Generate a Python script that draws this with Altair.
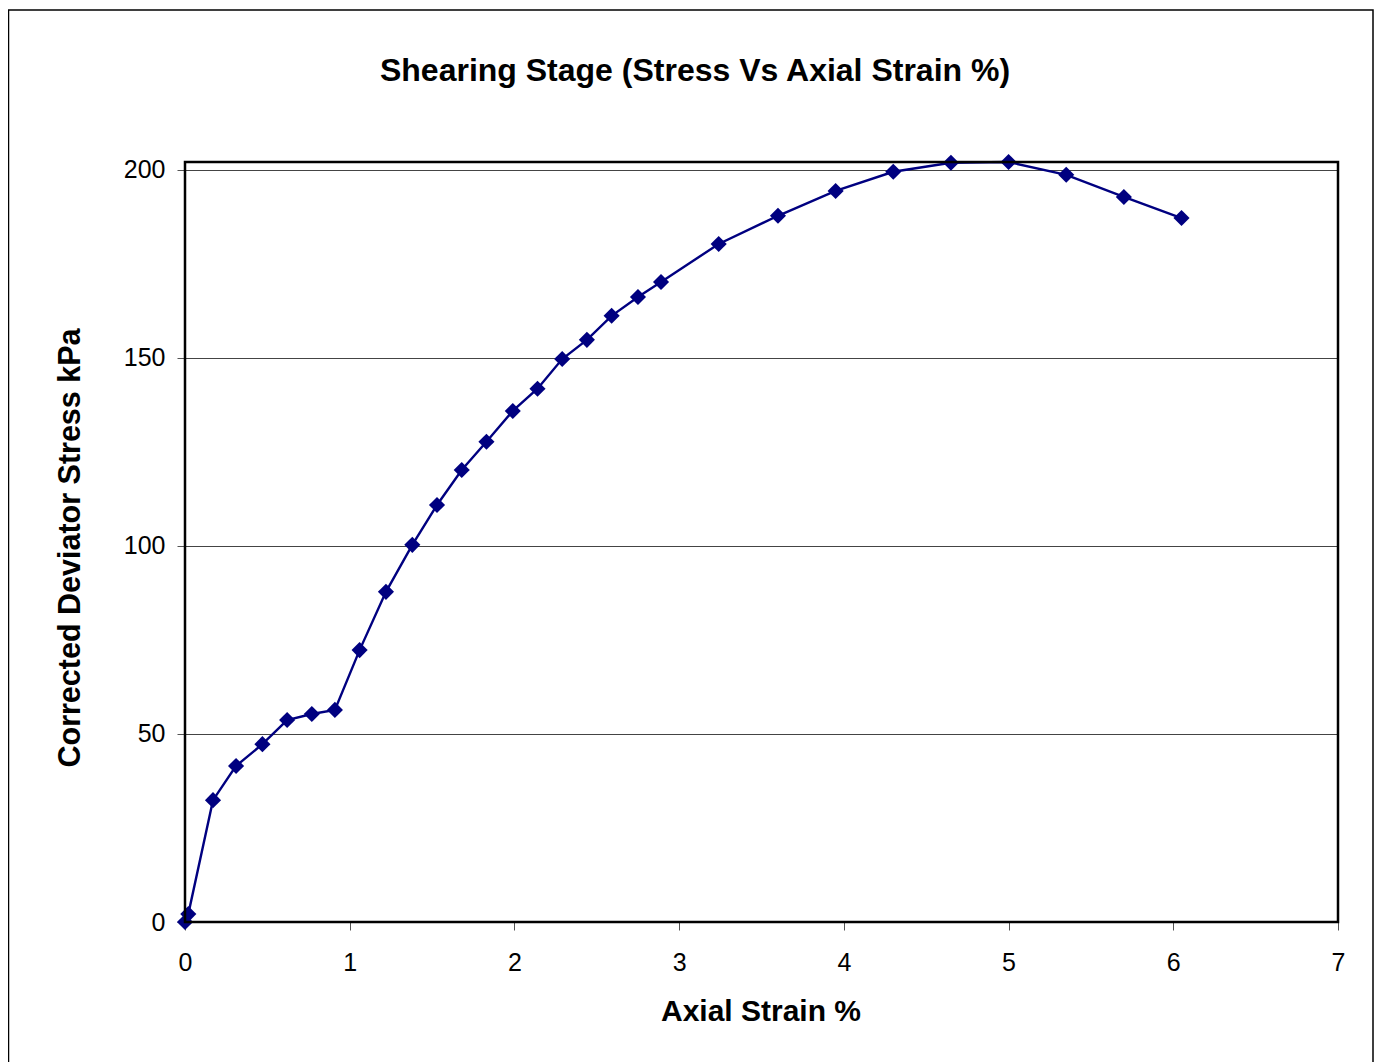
import altair as alt
import pandas as pd

strain = [0.0, 0.02, 0.17, 0.31, 0.47, 0.62, 0.77, 0.91, 1.06, 1.22, 1.38, 1.53,
          1.68, 1.83, 1.99, 2.14, 2.29, 2.44, 2.59, 2.75, 2.89, 3.24, 3.60, 3.95,
          4.30, 4.65, 5.00, 5.35, 5.70, 6.05]
stress = [0.0, 2.1, 32.4, 41.5, 47.3, 53.7, 55.3, 56.4, 72.3, 87.8, 100.3, 110.9,
          120.2, 127.7, 135.9, 141.8, 149.7, 154.8, 161.2, 166.2, 170.2, 180.3, 187.8, 194.4,
          199.5, 201.9, 202.1, 198.7, 192.8, 187.2]

title_text = "Shearing Stage (Stress Vs Axial Strain %)"
x_title = "Axial Strain %"
y_title = "Corrected Deviator Stress kPa"
x_ticks = [0, 1, 2, 3, 4, 5, 6, 7]
y_ticks = [0, 50, 100, 150, 200]

df = pd.DataFrame({"strain": strain, "stress": stress})
one = pd.DataFrame({"k": [0]})

FONT = "Liberation Sans"
NAVY = "#000080"

x_enc = alt.X("strain:Q", scale=alt.Scale(domain=[0, 7], nice=False, zero=False),
              axis=alt.Axis(values=x_ticks, grid=False, title=None, tickSize=8,
                            tickColor="#555555", labelPadding=20, labelFontSize=25,
                            labelFont=FONT, labelColor="black", domain=False,
                            labelFlush=False, format="d"))
y_enc = alt.Y("stress:Q", scale=alt.Scale(domain=[0, 202.1], nice=False, zero=True),
              axis=alt.Axis(values=y_ticks, grid=True, gridColor="#444444", gridWidth=1,
                            title=None, tickSize=8, tickColor="#555555", labelPadding=12,
                            labelFontSize=25, labelFont=FONT, labelColor="black",
                            domain=False, format="d"))

line = alt.Chart(df).mark_line(color=NAVY, strokeWidth=2.4).encode(x=x_enc, y=y_enc)
pts = alt.Chart(df).mark_point(shape="diamond", filled=True, color=NAVY, size=260,
                               opacity=1).encode(x="strain:Q", y="stress:Q")

frame = alt.Chart(one).mark_rect(filled=False, stroke="black", strokeWidth=1.5).encode(
    x=alt.value(-176.5), x2=alt.value(1188), y=alt.value(-152), y2=alt.value(980))

border = alt.Chart(one).mark_rect(filled=False, stroke="black", strokeWidth=2.5).encode(
    x=alt.value(0), x2=alt.value(1153), y=alt.value(0), y2=alt.value(760))

title = alt.Chart(one).mark_text(text=title_text, font=FONT, fontSize=32, fontWeight="bold",
                                 align="center", baseline="alphabetic", color="black").encode(
    x=alt.value(510), y=alt.value(-81))
xt = alt.Chart(one).mark_text(text=x_title, font=FONT, fontSize=30, fontWeight="bold",
                              align="center", baseline="alphabetic", color="black").encode(
    x=alt.value(576), y=alt.value(859))
yt = alt.Chart(one).mark_text(text=y_title, font=FONT, fontSize=30.5, fontWeight="bold",
                              align="center", baseline="alphabetic", angle=270,
                              color="black").encode(
    x=alt.value(-105), y=alt.value(386))

chart = alt.layer(frame, line, pts, border, title, xt, yt).properties(
    width=1153, height=760,
    background="white",
    autosize=alt.AutoSizeParams(type="none"),
    padding={"left": 177, "top": 154, "right": 36, "bottom": 140},
).configure_view(stroke=None, strokeWidth=0)

chart.save("out.html", embed_options={"renderer": "svg", "actions": False})
